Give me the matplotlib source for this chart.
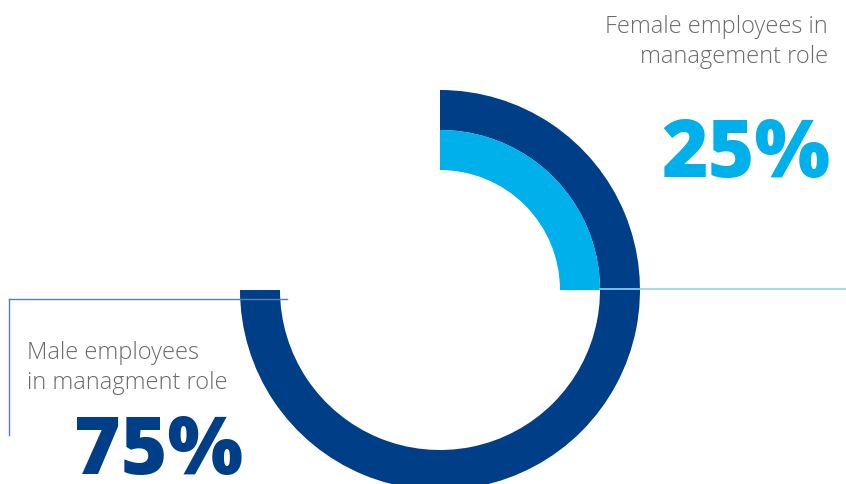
import matplotlib.pyplot as plt

# shares of management roles
labels = ["Male employees\nin managment role", "Female employees in\nmanagement role"]
shares = [75, 25]
pct_text = ["75%", "25%"]

dark = "#003f87"
light = "#00b0ea"
grey = "#6b6b6b"

W, H = 846, 484
fig = plt.figure(figsize=(W / 100, H / 100), dpi=100)
ax = fig.add_axes([0, 0, 1, 1])

cx, cy = 440, H - 290

# outer ring: male share
ax.pie(shares, colors=[dark, "none"], startangle=90, counterclock=False,
       radius=200, center=(cx, cy), frame=True,
       wedgeprops=dict(width=40, linewidth=0))
# inner ring: female share
ax.pie(shares[::-1], colors=[light, "none"], startangle=90, counterclock=False,
       radius=160, center=(cx, cy), frame=True,
       wedgeprops=dict(width=40, linewidth=0))

# leader lines
ax.plot([600, W], [H - 288.5, H - 288.5], color="#8fd6ee", lw=1.2, zorder=5)
ax.plot([8.5, 287], [H - 298.5, H - 298.5], color="#5b7db3", lw=1.0, zorder=5)
ax.plot([8.5, 8.5], [H - 298.5, H - 435], color="#5b7db3", lw=1.0, zorder=5)

font = ["Open Sans", "DejaVu Sans"]

# female labels
ax.text(828, H - 63, labels[1], ha="right", va="baseline", fontsize=17,
        color=grey, fontweight="light", family=font, linespacing=1.32,
        multialignment="right")
ax.text(830, H - 177, pct_text[1], ha="right", va="baseline", fontsize=57.5,
        color=light, fontweight=800, family=font)

# male labels
ax.text(27, H - 389, labels[0], ha="left", va="baseline", fontsize=17,
        color=grey, fontweight="light", family=font, linespacing=1.35)
ax.text(74, H - 474, pct_text[0], ha="left", va="baseline", fontsize=57.5,
        color=dark, fontweight=800, family=font)

ax.set_xlim(0, W)
ax.set_ylim(0, H)
ax.set_aspect("equal")
ax.axis("off")

fig.savefig("out.png", dpi=100)
